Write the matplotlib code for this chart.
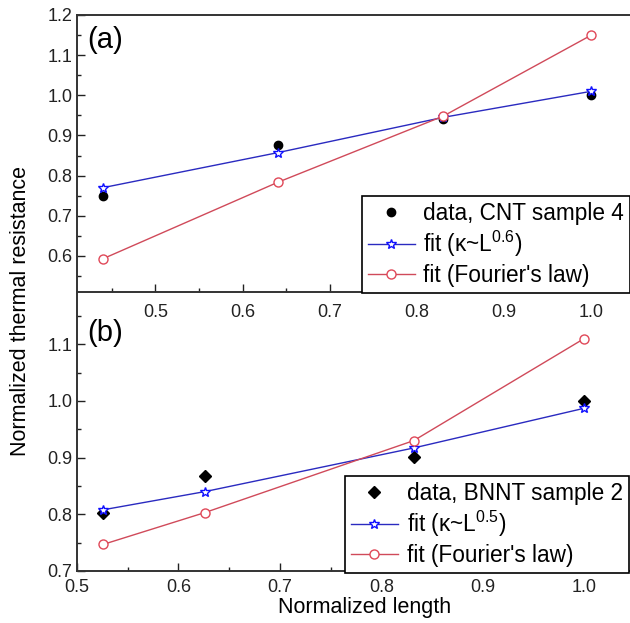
import matplotlib
matplotlib.use("Agg")
import matplotlib.pyplot as plt
from matplotlib.ticker import MultipleLocator

plt.rcParams['font.family'] = ['Liberation Sans', 'DejaVu Sans']
plt.rcParams['mathtext.default'] = 'regular'

# Panel (a): CNT sample 4
a_x = [0.44, 0.64, 0.83, 1.0]
a_data = [0.75, 0.875, 0.94, 1.0]
a_fit_pow = [0.77, 0.857, 0.945, 1.01]
a_fit_fourier = [0.593, 0.783, 0.948, 1.15]

# Panel (b): BNNT sample 2
b_x = [0.526, 0.626, 0.832, 1.0]
b_data = [0.803, 0.868, 0.901, 1.0]
b_fit_pow = [0.808, 0.84, 0.917, 0.987]
b_fit_fourier = [0.747, 0.803, 0.93, 1.11]

W, H = 630, 623
fig = plt.figure(figsize=(W/100, H/100), dpi=100)

left = 77/W
right = 635/W
mid = 1 - 292/H
ax_a = fig.add_axes([left, mid, right-left, (1-15/H)-mid])
ax_b = fig.add_axes([left, 1-571/H, right-left, mid-(1-571/H)])
ax_a.set_zorder(3)
ax_a.patch.set_visible(False)
ax_b.patch.set_visible(False)

blue_line = '#2a2ac0'
blue_mk = '#1010ff'
red_line = '#d04a5a'
red_mk = '#e04858'
fs_tick = 13
fs_leg = 16.3

def style(ax):
    ax.tick_params(which='both', direction='in', top=False, right=False,
                   labelsize=fs_tick, colors='#222222')
    ax.tick_params(which='major', length=5.5, width=1.0)
    ax.tick_params(which='minor', length=3, width=1.0)
    for s in ax.spines.values():
        s.set_linewidth(1.4)
        s.set_color('#333333')

# Panel (a)
ax_a.plot(a_x, a_data, 'o', color='black', ms=6, ls='none', label='data, CNT sample 4', zorder=3)
ax_a.plot(a_x, a_fit_pow, '-', color=blue_line, lw=1.0, marker='*', ms=7.5,
          mfc='white', mec=blue_mk, mew=1.0, label='fit (κ~L$^{0.6}$)', zorder=4)
ax_a.plot(a_x, a_fit_fourier, '-', color=red_line, lw=1.0, marker='o', ms=6.5,
          mfc='white', mec=red_mk, mew=1.0, label="fit (Fourier's law)", zorder=4)
ax_a.set_xlim(0.41, 1.05)
ax_a.set_ylim(0.51, 1.2)
ax_a.xaxis.set_major_locator(MultipleLocator(0.1))
ax_a.xaxis.set_minor_locator(MultipleLocator(0.05))
ax_a.yaxis.set_major_locator(MultipleLocator(0.1))
ax_a.yaxis.set_minor_locator(MultipleLocator(0.05))
ax_a.xaxis.set_major_formatter(plt.FuncFormatter(lambda v, p: f'{v:.1f}'))
ax_a.yaxis.set_major_formatter(plt.FuncFormatter(lambda v, p: f'{v:.1f}'))
style(ax_a)
ax_a.tick_params(axis='x', pad=8.5)
ax_a.tick_params(axis='y', pad=3.5)
ax_a.spines['right'].set_visible(False)
ax_a.text(87/W, 1-40/H, '(a)', transform=fig.transFigure, fontsize=21, va='center', ha='left')
leg_a = ax_a.legend(loc='upper left', bbox_to_anchor=(362/W, 1-196/H),
                    bbox_transform=fig.transFigure, fontsize=fs_leg, frameon=True,
                    fancybox=False, edgecolor='black', framealpha=1, borderaxespad=0,
                    borderpad=0.25, labelspacing=0.2, handlelength=2.1, handletextpad=0.35)
leg_a.get_frame().set_linewidth(1.2)

# Panel (b)
ax_b.plot(b_x, b_data, 'D', color='black', ms=6.5, ls='none', label='data, BNNT sample 2', zorder=3)
ax_b.plot(b_x, b_fit_pow, '-', color=blue_line, lw=1.0, marker='*', ms=7.5,
          mfc='white', mec=blue_mk, mew=1.0, label='fit (κ~L$^{0.5}$)', zorder=4)
ax_b.plot(b_x, b_fit_fourier, '-', color=red_line, lw=1.0, marker='o', ms=6.5,
          mfc='white', mec=red_mk, mew=1.0, label="fit (Fourier's law)", zorder=4)
ax_b.set_xlim(0.5, 1.05)
ax_b.set_ylim(0.7, 1.192)
ax_b.xaxis.set_major_locator(MultipleLocator(0.1))
ax_b.xaxis.set_minor_locator(MultipleLocator(0.05))
ax_b.yaxis.set_major_locator(MultipleLocator(0.1))
ax_b.yaxis.set_minor_locator(MultipleLocator(0.05))
ax_b.xaxis.set_major_formatter(plt.FuncFormatter(lambda v, p: f'{v:.1f}'))
ax_b.yaxis.set_major_formatter(plt.FuncFormatter(lambda v, p: f'{v:.1f}'))
style(ax_b)
ax_b.tick_params(axis='x', pad=5.5)
ax_b.tick_params(axis='y', pad=3.5)
ax_b.spines['right'].set_visible(False)
ax_b.spines['top'].set_visible(False)
ax_b.text(87/W, 1-333/H, '(b)', transform=fig.transFigure, fontsize=21, va='center', ha='left')
leg_b = ax_b.legend(loc='upper left', bbox_to_anchor=(345/W, 1-476/H),
                    bbox_transform=fig.transFigure, fontsize=fs_leg, frameon=True,
                    fancybox=False, edgecolor='black', framealpha=1, borderaxespad=0,
                    borderpad=0.25, labelspacing=0.2, handlelength=2.1, handletextpad=0.4)
leg_b.get_frame().set_linewidth(1.2)

fig.text(365/W, 1-607/H, 'Normalized length', fontsize=15.5, ha='center', va='center')
fig.text(21/W, 1-311/H, 'Normalized thermal resistance', fontsize=15.5, ha='center',
         va='center', rotation=90)

fig.savefig('out.png', dpi=100)
